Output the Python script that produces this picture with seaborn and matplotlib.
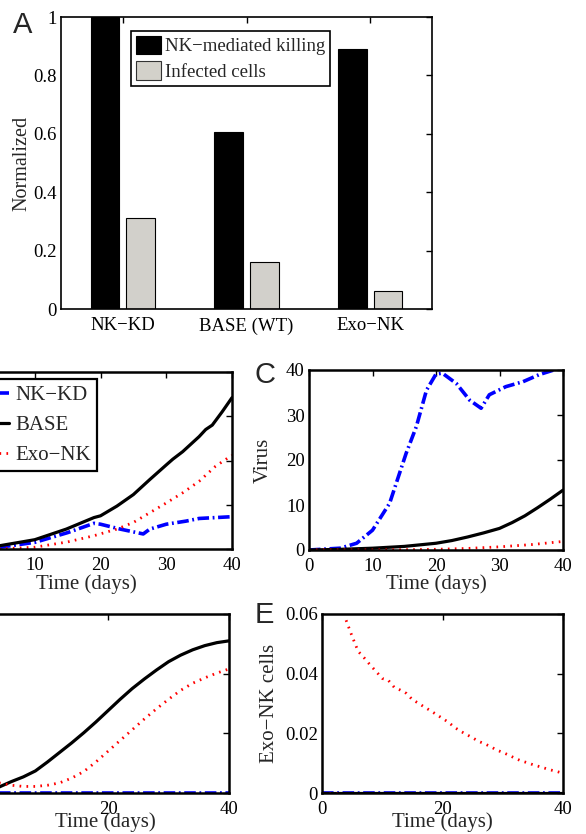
import numpy as np
import pandas as pd
import matplotlib
matplotlib.use('Agg')
import matplotlib.pyplot as plt
from matplotlib.patches import Patch
import seaborn as sns

# ---- panel A: normalized bars
conditions = ['NK\u2212KD', 'BASE (WT)', 'Exo\u2212NK']
killing = [1.0, 0.605, 0.89]
infected = [0.31, 0.16, 0.06]
series_names = ['NK\u2212mediated killing', 'Infected cells']

# ---- panel B (left part cut off in the original)
b_base_t = [0, 4.7, 10, 14.8, 19, 20, 22.5, 25, 27.5, 30, 31, 32.5, 35, 36, 37, 38.5, 40]
b_base_y = [0, 0.75, 2.1, 4.5, 7.1, 7.5, 9.7, 12.3, 15.7, 19, 20.3, 22, 25.4, 27, 28, 31, 34.2]
b_kd_t = [0, 4.7, 10, 15, 19, 20, 23, 26.5, 27.5, 30, 33, 35, 40]
b_kd_y = [0, 0.4, 1.5, 3.7, 5.8, 5.6, 4.5, 3.4, 4.5, 5.6, 6.3, 6.9, 7.3]
b_exo_t = [0, 4.7, 10, 15, 19, 22.5, 25, 27.5, 30, 32.5, 35, 37.5, 40]
b_exo_y = [0, 0, 0.4, 1.6, 3.0, 4.5, 6.0, 8.2, 10.4, 12.7, 15.3, 18.7, 21.2]

# ---- panel C: virus
c_kd_t = [0, 4.9, 7.5, 10, 12.7, 15.3, 16.9, 18.5, 20, 21, 23.2, 25.3, 27.1, 28.4, 31, 33.7, 36.3, 39, 40]
c_kd_y = [0, 0.4, 1.5, 4.4, 10.4, 21.5, 27.4, 35.5, 39.1, 39.3, 37, 33.3, 31.5, 34.5, 36.3, 37.4, 39.0, 40.2, 40.4]
c_base_t = [0, 5, 10, 15, 20, 22.5, 25, 27.5, 30, 32, 34, 36, 38, 40]
c_base_y = [0, 0.15, 0.4, 0.8, 1.5, 2.1, 2.9, 3.8, 4.8, 6.1, 7.6, 9.4, 11.3, 13.3]
c_exo_t = [0, 10, 20, 25, 30, 35, 40]
c_exo_y = [0, 0, 0.15, 0.35, 0.7, 1.2, 1.9]

# ---- panel D (left part cut off)
d_t = [0, 2, 4, 6, 8, 10, 12, 14, 16, 18, 20, 22, 24, 26, 28, 30, 32, 34, 36, 38, 40]
d_base_y = [0, 0.1, 0.19, 0.27, 0.37, 0.52, 0.68, 0.84, 1.01, 1.19, 1.38, 1.57, 1.75,
            1.91, 2.06, 2.2, 2.31, 2.4, 2.47, 2.52, 2.55]
d_exo_y = [0.25, 0.17, 0.13, 0.11, 0.11, 0.13, 0.17, 0.25, 0.36, 0.52, 0.7, 0.88, 1.06,
           1.24, 1.41, 1.57, 1.72, 1.84, 1.93, 2.01, 2.08]
d_kd_y = [0] * len(d_t)

# ---- panel E: Exo-NK cells
e_zero_t = [0, 1, 2, 3]
e_zero_y = [0, 0, 0, 0]
e_exo_t = list(range(4, 41))
e_exo_y = [0.0579, 0.0525, 0.0475, 0.0453, 0.0429, 0.0407, 0.0384, 0.0378, 0.0354, 0.0345,
           0.0334, 0.0313, 0.0301, 0.0288, 0.0276, 0.0263, 0.0250, 0.0237, 0.0220, 0.0207,
           0.0196, 0.0185, 0.0173, 0.0165, 0.0155, 0.0144, 0.0136, 0.0127, 0.0117, 0.0108,
           0.0102, 0.0095, 0.0089, 0.0083, 0.0077, 0.0072, 0.0066]

sns.set_style('white')
plt.rcParams['font.family'] = ['Liberation Serif', 'DejaVu Serif']
plt.rcParams['axes.edgecolor'] = 'black'

GRAY = '#d3d1ca'
base_style = dict(color='black', lw=2.3, linestyle='-')
kd_style = dict(color='#0000ff', lw=2.6, linestyle=(0, (3.2, 1, 0.5, 1)))
exo_style = dict(color='#ff0000', lw=2.0, linestyle=(0, (0.6, 1.9)))

W, H = 586, 834
fig = plt.figure(figsize=(W / 100, H / 100), dpi=100)


def box(l, t, r, b):
    return [l / W, (H - b) / H, (r - l) / W, (b - t) / H]


def style_axes(ax, lw=1.8):
    for s in ax.spines.values():
        s.set_visible(True)
        s.set_linewidth(lw)
        s.set_color('black')
    ax.tick_params(direction='in', top=True, right=True, length=4, width=1,
                   labelsize=13.5, pad=3, colors='black')
    ax.tick_params(axis='x', pad=6)


def line(ax, t, y, st, label=None):
    sns.lineplot(x=t, y=y, ax=ax, legend=False, label=label, **st)


# ---------- A
axA = fig.add_axes(box(61, 17, 432, 309))
dfA = pd.DataFrame({
    'cond': conditions * 2,
    'val': killing + infected,
    'series': [series_names[0]] * 3 + [series_names[1]] * 3,
})
sns.barplot(data=dfA, x='cond', y='val', hue='series', order=conditions,
            hue_order=series_names, palette=['black', GRAY], width=0.58, gap=0.2,
            errorbar=None, edgecolor='black', linewidth=0.8, ax=axA, legend=False)
style_axes(axA, lw=1.2)
axA.set_xlim(-0.5, 2.5)
axA.set_ylim(0, 1)
axA.set_yticks([0, 0.2, 0.4, 0.6, 0.8, 1.0])
axA.set_yticklabels(['0', '0.2', '0.4', '0.6', '0.8', '1'])
axA.set_xlabel('')
axA.set_ylabel('Normalized', fontsize=14.5)
axA.yaxis.set_label_coords(-0.08, 0.5)
handles = [Patch(facecolor='black', edgecolor='black', lw=0.8),
           Patch(facecolor=GRAY, edgecolor='#333333', lw=0.8)]
legA = axA.legend(handles, series_names, loc='upper left',
                  bbox_to_anchor=(131 / W, 1 - 31 / H), bbox_transform=fig.transFigure,
                  frameon=True, fancybox=False, edgecolor='black', framealpha=1,
                  borderaxespad=0, fontsize=13.5, handlelength=1.37, handleheight=1.15,
                  handletextpad=0.2, borderpad=0.25, labelspacing=0.32)
legA.get_frame().set_linewidth(1.2)

# ---------- B
axB = fig.add_axes(box(-31, 372, 232, 549))
line(axB, b_kd_t, b_kd_y, kd_style, 'NK\u2212KD')
line(axB, b_base_t, b_base_y, base_style, 'BASE')
line(axB, b_exo_t, b_exo_y, exo_style, 'Exo\u2212NK')
style_axes(axB)
axB.set_xlim(0, 40)
axB.set_ylim(0, 40)
axB.set_xticks([0, 10, 20, 30, 40])
axB.set_yticks([0, 10, 20, 30, 40])
axB.set_xlabel('Time (days)', fontsize=15)
axB.xaxis.set_label_coords(0.445, -0.14)
legB = axB.legend(loc='upper right', bbox_to_anchor=(97 / W, 1 - 379 / H),
                  bbox_transform=fig.transFigure, frameon=True, fancybox=False,
                  edgecolor='black', framealpha=1, borderaxespad=0, fontsize=15,
                  handlelength=2.0, handletextpad=0.3, borderpad=0.3, labelspacing=0.5)
legB.get_frame().set_linewidth(1.6)

# ---------- C
axC = fig.add_axes(box(309, 370, 563, 550))
line(axC, c_kd_t, c_kd_y, kd_style)
line(axC, c_base_t, c_base_y, base_style)
line(axC, c_exo_t, c_exo_y, exo_style)
style_axes(axC)
axC.set_xlim(0, 40)
axC.set_ylim(0, 40)
axC.set_xticks([0, 10, 20, 30, 40])
axC.set_yticks([0, 10, 20, 30, 40])
axC.set_xlabel('Time (days)', fontsize=15)
axC.xaxis.set_label_coords(0.5, -0.135)
axC.set_ylabel('Virus', fontsize=15)
axC.yaxis.set_label_coords(-0.142, 0.5)

# ---------- D
axD = fig.add_axes(box(-13, 614, 229, 793))
line(axD, d_t, d_kd_y, kd_style)
line(axD, d_t, d_base_y, base_style)
line(axD, d_t, d_exo_y, exo_style)
style_axes(axD)
axD.set_xlim(0, 40)
axD.set_ylim(0, 3)
axD.set_xticks([0, 20, 40])
axD.set_yticks([0, 1, 2, 3])
axD.set_xlabel('Time (days)', fontsize=15)
axD.xaxis.set_label_coords(0.49, -0.106)

# ---------- E
axE = fig.add_axes(box(322, 614, 563, 793))
line(axE, [0, 40], [0, 0], kd_style)
line(axE, [0, 40], [0, 0], base_style)
line(axE, e_zero_t, e_zero_y, exo_style)
line(axE, e_exo_t, e_exo_y, exo_style)
style_axes(axE)
axE.set_xlim(0, 40)
axE.set_ylim(0, 0.06)
axE.set_xticks([0, 20, 40])
axE.set_yticks([0, 0.02, 0.04, 0.06])
axE.set_yticklabels(['0', '0.02', '0.04', '0.06'])
axE.set_xlabel('Time (days)', fontsize=15)
axE.xaxis.set_label_coords(0.5, -0.106)
axE.set_ylabel('Exo\u2212NK cells', fontsize=15)
axE.yaxis.set_label_coords(-0.18, 0.5)

for ax in (axB, axD):
    ax.set_ylabel('')

# panel letters
for letter, x, y in [('A', 13, 33), ('C', 255, 383), ('E', 255, 623)]:
    fig.text(x / W, 1 - y / H, letter, fontsize=21, family='Liberation Sans',
             ha='left', va='baseline')

fig.savefig('out.png', dpi=100)
